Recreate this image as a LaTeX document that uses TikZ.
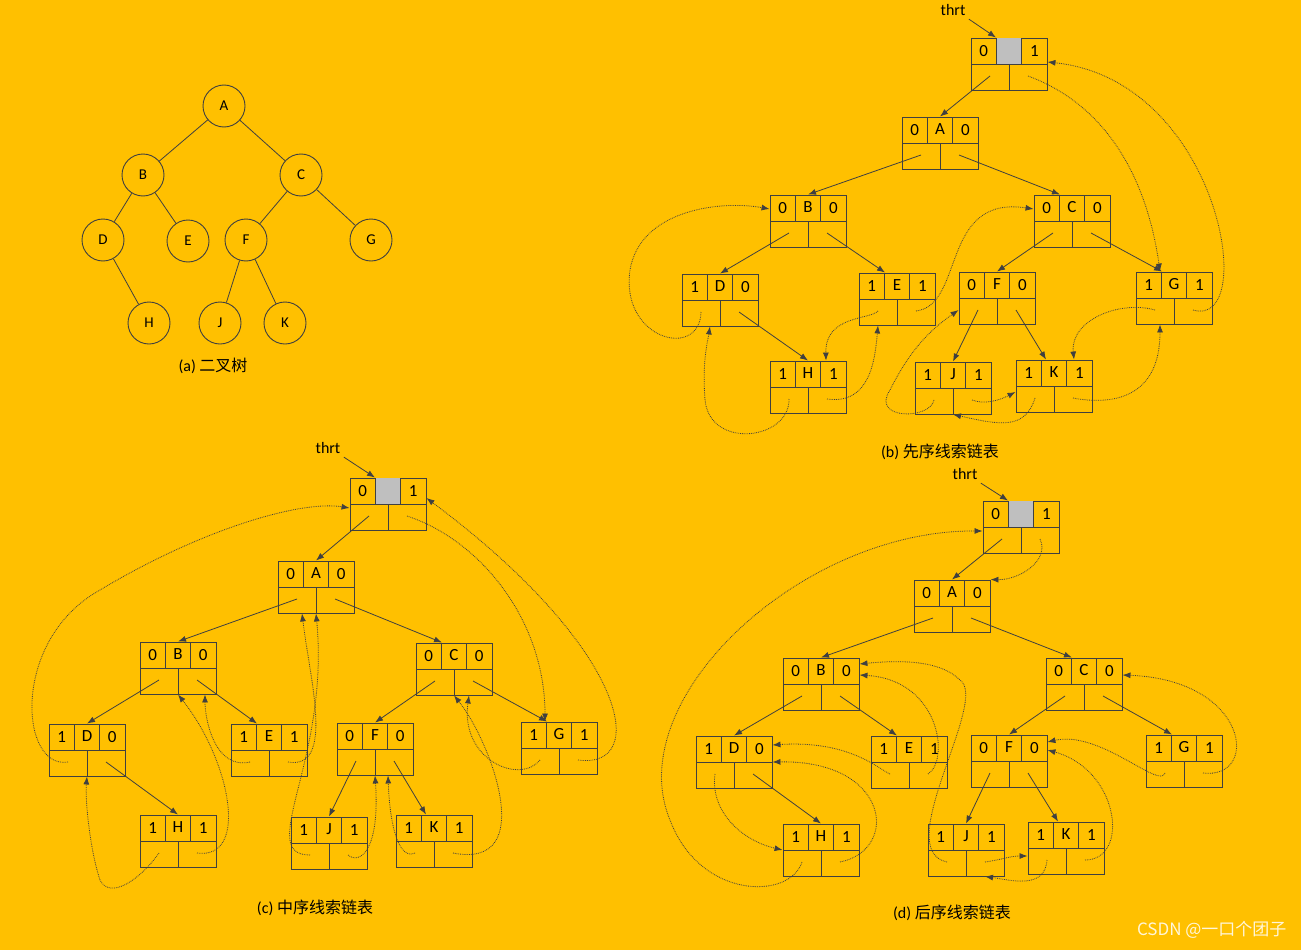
\documentclass[tikz,border=0pt]{standalone}
\usepackage{fontspec}
\setmainfont{Carlito}
\newfontfamily\cjk{Noto Sans CJK SC}
\usetikzlibrary{arrows.meta}
\definecolor{bg}{HTML}{FFC000}
\definecolor{ln}{HTML}{404040}
\tikzset{
 tbox/.style={draw=ln,line width=0.9pt,minimum width=76,minimum height=52,inner sep=0},
 tc/.style={draw=ln,line width=0.9pt,circle,minimum size=42,inner sep=0,font=\fontsize{15}{17}\selectfont},
 lbl/.style={font=\fontsize{17}{20}\selectfont,inner sep=0},
 captxt/.style={font=\fontsize{16}{19}\selectfont},
 kid/.style={draw=ln,line width=0.8pt,-{Latex[length=8pt,width=6pt]}},
 thr/.style={draw=ln,line width=0.8pt,densely dotted,-{Latex[length=8pt,width=6pt]}},
}
\newcommand\tn[7][]{%
 \node[tbox] (#2) at (#3,#4) {};
 \ifx\relax#1\relax\else\fill[#1] ({#3-12.7},{#4-26}) rectangle ({#3+12.7},#4);\fi
 \draw[ln,line width=0.9pt] ({#3-38},#4) -- ({#3+38},#4)
   ({#3-12.7},{#4-26}) -- ({#3-12.7},#4) ({#3+12.7},{#4-26}) -- ({#3+12.7},#4)
   (#3,#4) -- (#3,{#4+26});
 \node[lbl] at ({#3-25.3},{#4-13}) {#5};
 \node[lbl] at (#3,{#4-14}) {#6};
 \node[lbl] at ({#3+25.3},{#4-13}) {#7};
 \coordinate (#2-l) at ({#3-19},{#4+12});
 \coordinate (#2-r) at ({#3+19},{#4+12});
}
\begin{document}
\begin{tikzpicture}[x=1pt,y=-1pt]
\fill[bg] (0,0) rectangle (1301,950);
\useasboundingbox (0,0) rectangle (1301,950);
% (a)
\foreach \n/\x/\y in {A/224/106,B/143/175,C/301/175,D/103/240,E/188/241,F/246/240,G/371/240,H/149/323,J/220/323,K/285/323}
  \node[tc] (t\n) at (\x,\y) {\n};
\draw[ln,line width=0.8pt] (tA)--(tB) (tA)--(tC) (tB)--(tD) (tB)--(tE) (tC)--(tF) (tC)--(tG) (tD)--(tH) (tF)--(tJ) (tF)--(tK);
\node[captxt] (capa) at (213,366) {(a) {\cjk 二叉树}};
% (b)
\tn[gray!50]{bh}{1009}{64}{0}{}{1}
\tn{bA}{940}{143}{0}{A}{0}
\tn{bB}{808}{221}{0}{B}{0}
\tn{bC}{1072}{221}{0}{C}{0}
\tn{bD}{720}{300}{1}{D}{0}
\tn{bE}{897}{299}{1}{E}{1}
\tn{bF}{997}{298}{0}{F}{0}
\tn{bG}{1174}{298}{1}{G}{1}
\tn{bH}{808}{387}{1}{H}{1}
\tn{bJ}{953}{388}{1}{J}{1}
\tn{bK}{1054}{386}{1}{K}{1}
\node[captxt] (capb) at (940,452) {(b) {\cjk 先序线索链表}};
\node[captxt] (thb) at (953,10) {thrt};
\draw[kid] (thb.south east) -- ([xshift=-13]bh.north);
\draw[kid] (bh-l) -- (bA.north);
\draw[kid] (bA-l) -- (bB.north);
\draw[kid] (bA-r) -- ([xshift=-12]bC.north);
\draw[kid] (bB-l) -- (bD.north);
\draw[kid] (bB-r) -- ([xshift=-12]bE.north);
\draw[kid] (bC-l) -- (bF.north);
\draw[kid] (bC-r) -- ([xshift=-12]bG.north);
\draw[kid] (bD-r) -- (bH.north);
\draw[kid] (bF-l) -- (bJ.north);
\draw[kid] (bF-r) -- ([xshift=-8]bK.north);
\draw[thr] (bh-r) .. controls (1120,110) and (1150,200) .. ([xshift=-14]bG.north);
\draw[thr] (bG-r) .. controls (1260,330) and (1220,80) .. ([yshift=2]bh.east);
\draw[thr] (bD-l) .. controls (700,360) and (620,340) .. (630,270) .. controls (640,210) and (720,200) .. ([yshift=12]bB.west);
\draw[thr] (bH-l) .. controls (790,440) and (710,450) .. (705,400) .. controls (702,360) and (708,340) .. ([xshift=-10]bD.south);
\draw[thr] (bH-r) .. controls (870,405) and (875,360) .. ([xshift=-19]bE.south);
\draw[thr] (bE-l) .. controls (870,320) and (825,315) .. ([xshift=18]bH.north);
\draw[thr] (bE-r) .. controls (965,305) and (940,195) .. ([yshift=12]bC.west);
\draw[thr] (bJ-l) .. controls (930,420) and (870,420) .. (890,390) .. controls (910,350) and (930,330) .. ([yshift=-12]bF.west);
\draw[thr] (bJ-r) .. controls (985,405) and (1000,400) .. ([yshift=-6]bK.west);
\draw[thr] (bK-l) .. controls (1025,430) and (1000,425) .. (bJ.south);
\draw[thr] (bK-r) .. controls (1110,405) and (1160,400) .. ([xshift=-14]bG.south);
\draw[thr] (bG-l) .. controls (1120,300) and (1070,320) .. ([xshift=20]bK.north);
% (c)
\tn[gray!50]{ch}{388}{504}{0}{}{1}
\tn{cA}{316}{587}{0}{A}{0}
\tn{cB}{178}{668}{0}{B}{0}
\tn{cC}{454}{669}{0}{C}{0}
\tn{cD}{87}{750}{1}{D}{0}
\tn{cE}{269}{750}{1}{E}{1}
\tn{cF}{375}{749}{0}{F}{0}
\tn{cG}{559}{748}{1}{G}{1}
\tn{cH}{178}{841}{1}{H}{1}
\tn{cJ}{329}{843}{1}{J}{1}
\tn{cK}{434}{841}{1}{K}{1}
\node[captxt] (capc) at (315,908) {(c) {\cjk 中序线索链表}};
\node[captxt] (thc) at (328,448) {thrt};
\draw[kid] (thc.south east) -- ([xshift=-13]ch.north);
\draw[kid] (ch-l) -- (cA.north);
\draw[kid] (cA-l) -- (cB.north);
\draw[kid] (cA-r) -- ([xshift=-12]cC.north);
\draw[kid] (cB-l) -- (cD.north);
\draw[kid] (cB-r) -- ([xshift=-12]cE.north);
\draw[kid] (cC-l) -- (cF.north);
\draw[kid] (cC-r) -- ([xshift=-12]cG.north);
\draw[kid] (cD-r) -- (cH.north);
\draw[kid] (cF-l) -- (cJ.north);
\draw[kid] (cF-r) -- ([xshift=-8]cK.north);
\draw[thr] (ch-r) .. controls (480,540) and (545,620) .. ([xshift=-14]cG.north);
\draw[thr] (cG-r) .. controls (650,770) and (630,650) .. ([yshift=6]ch.east);
\draw[thr] (cD-l) .. controls (20,770) and (10,640) .. (100,590) .. controls (200,530) and (300,500) .. ([yshift=-4]ch.west);
\draw[thr] (cH-l) .. controls (140,880) and (110,900) .. (100,880) .. controls (90,850) and (85,800) .. (cD.south);
\draw[thr] (cH-r) .. controls (250,860) and (230,760) .. (cB.south);
\draw[thr] (cE-l) .. controls (215,770) and (205,720) .. ([xshift=27]cB.south);
\draw[thr] (cE-r) .. controls (335,770) and (310,680) .. ([xshift=-14]cA.south);
\draw[thr] (cJ-l) .. controls (255,855) and (330,760) .. (cA.south);
\draw[thr] (cJ-r) .. controls (360,865) and (380,850) .. (cF.south);
\draw[thr] (cK-l) .. controls (400,860) and (390,830) .. ([xshift=13]cF.south);
\draw[thr] (cK-r) .. controls (540,870) and (490,740) .. (cC.south);
\draw[thr] (cG-l) .. controls (520,785) and (460,760) .. ([xshift=15]cC.south);
% (d)
\tn[gray!50]{dh}{1021}{527}{0}{}{1}
\tn{dA}{952}{606}{0}{A}{0}
\tn{dB}{821}{684}{0}{B}{0}
\tn{dC}{1084}{684}{0}{C}{0}
\tn{dD}{734}{762}{1}{D}{0}
\tn{dE}{909}{762}{1}{E}{1}
\tn{dF}{1009}{761}{0}{F}{0}
\tn{dG}{1184}{761}{1}{G}{1}
\tn{dH}{821}{850}{1}{H}{1}
\tn{dJ}{966}{850}{1}{J}{1}
\tn{dK}{1066}{848}{1}{K}{1}
\node[captxt] (capd) at (952,913) {(d) {\cjk 后序线索链表}};
\node[captxt] (thd) at (965,474) {thrt};
\draw[kid] (thd.south east) -- ([xshift=-13]dh.north);
\draw[kid] (dh-l) -- (dA.north);
\draw[kid] (dA-l) -- (dB.north);
\draw[kid] (dA-r) -- ([xshift=-12]dC.north);
\draw[kid] (dB-l) -- (dD.north);
\draw[kid] (dB-r) -- ([xshift=-12]dE.north);
\draw[kid] (dC-l) -- (dF.north);
\draw[kid] (dC-r) -- ([xshift=-12]dG.north);
\draw[kid] (dD-r) -- (dH.north);
\draw[kid] (dF-l) -- (dJ.north);
\draw[kid] (dF-r) -- ([xshift=-8]dK.north);
\draw[thr] (dh-r) .. controls (1050,560) and (1020,580) .. (dA.north east);
\draw[thr] (dH-l) .. controls (790,900) and (700,900) .. (670,820) .. controls (620,700) and (800,530) .. ([yshift=-4]dh.west);
\draw[thr] (dH-r) .. controls (900,850) and (890,760) .. (dD.east);
\draw[thr] (dD-l) .. controls (710,810) and (740,840) .. (dH.west);
\draw[thr] (dE-l) .. controls (880,770) and (850,740) .. ([yshift=17]dD.east);
\draw[thr] (dE-r) .. controls (950,760) and (940,680) .. ([yshift=9]dB.east);
\draw[thr] (dJ-l) .. controls (890,850) and (990,700) .. (960,680) .. controls (940,660) and (900,660) .. ([yshift=20]dB.east);
\draw[thr] (dJ-r) .. controls (1000,860) and (1010,856) .. ([yshift=-8]dK.west);
\draw[thr] (dK-l) .. controls (1045,890) and (1010,880) .. ([xshift=19]dJ.south);
\draw[thr] (dK-r) .. controls (1130,860) and (1120,770) .. ([yshift=11]dF.east);
\draw[thr] (dG-l) .. controls (1160,790) and (1100,730) .. ([yshift=19]dF.east);
\draw[thr] (dG-r) .. controls (1260,780) and (1250,680) .. ([yshift=9]dC.east);
\node[font=\cjk\fontsize{17}{20}\selectfont,text=white!85!bg,anchor=east] (wm) at (1290,930) {CSDN @一口个团子};
\end{tikzpicture}
\end{document}
